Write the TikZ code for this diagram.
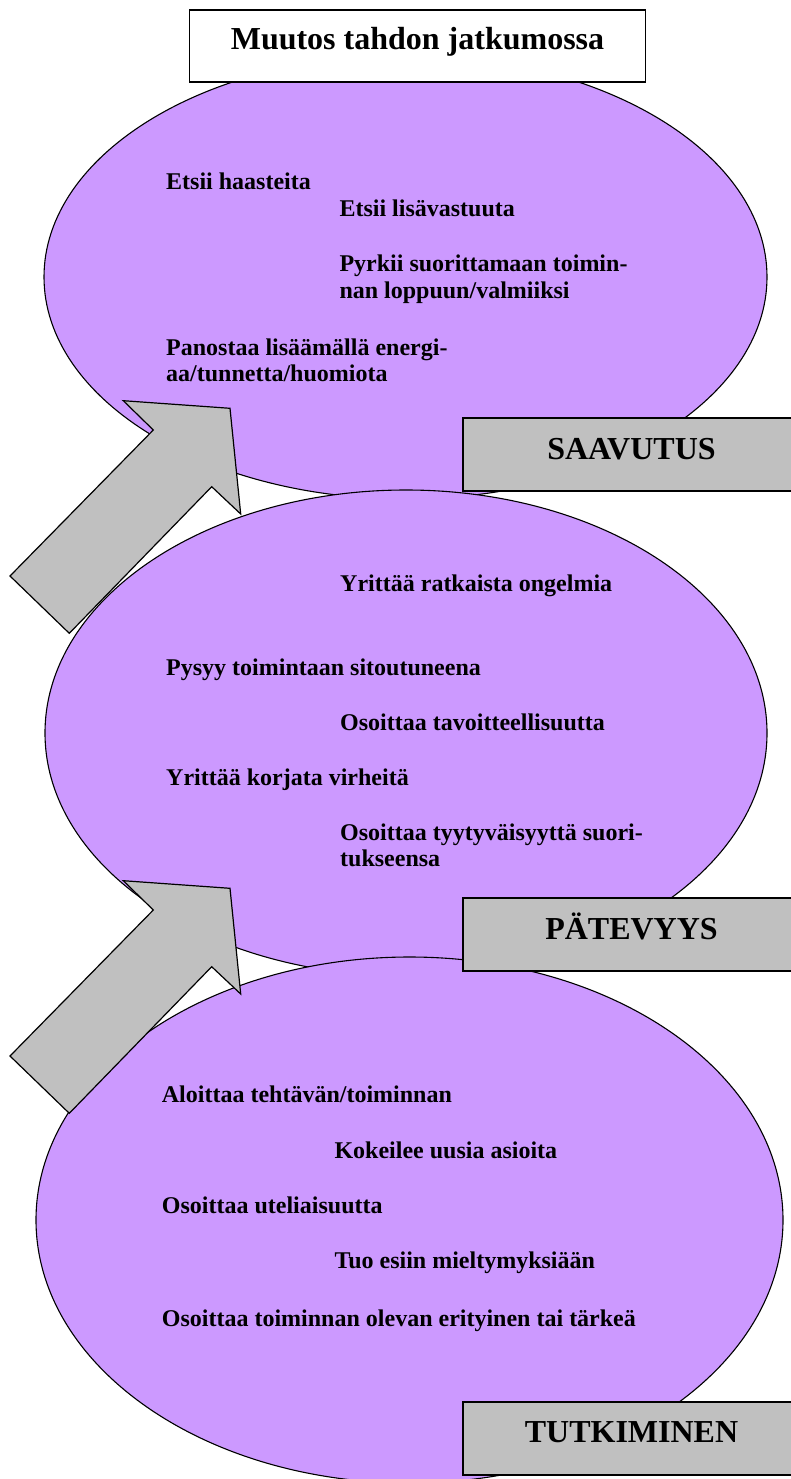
\documentclass[tikz,border=0pt]{standalone}
\usepackage{fontspec}
\setmainfont{Liberation Serif}
\usetikzlibrary{shapes.geometric}
\definecolor{lila}{RGB}{204,153,255}
\definecolor{harmaa}{RGB}{192,192,192}

\begin{document}
\begin{tikzpicture}[x=1pt,y=-1pt]
  \tikzset{pallo/.style = {shape=ellipse,draw,fill=lila,line width=1.1pt,inner sep=0pt}}
  \tikzset{teksti/.style = {anchor=base west,inner sep=0pt,align=left,
      font=\fontsize{24}{26.7}\selectfont\bfseries}}
  \tikzset{laatikko/.style = {shape=rectangle,draw,line width=1.3pt,inner sep=0pt,
      text height=22pt,text depth=13pt,font=\fontsize{32}{36}\selectfont\bfseries}}
  \tikzset{taso/.style = {laatikko,fill=harmaa,minimum width=337pt,minimum height=73pt}}
  \tikzset{nuoli/.style = {draw,fill=harmaa,line width=1.2pt,line join=miter}}

  \useasboundingbox (0,0) rectangle (790,1479);

  % pallot
  \node[pallo,minimum width=723pt,minimum height=444pt] (e1) at (405.5,277) {};
  \node[pallo,minimum width=722pt,minimum height=486pt] (e2) at (406,733) {};
  \node[pallo,minimum width=747pt,minimum height=526pt] (e3) at (409.5,1220) {};

  % nuolet
  \foreach \dy in {0,480}
    \draw[nuoli,yshift=-\dy pt] (10,576) -- (153.3,430) -- (123.3,400.7) -- (230,408.3)
      -- (240.7,514) -- (211.7,486.7) -- (69.3,633.3) -- cycle;

  \node[laatikko,fill=white,minimum width=456pt,minimum height=72pt,text depth=14pt]
    (otsikko) at (417.5,46) {Muutos tahdon jatkumossa};

  % saavutus (monirivisen solmun base = viimeinen rivi)
  \node[teksti] (s1) at (166,189.3) {Etsii haasteita};
  \node[teksti] (s2) at (339.3,216.7) {Etsii lisävastuuta};
  \node[teksti] (s3) at (339.3,298.3) {Pyrkii suorittamaan toimin-\\nan loppuun/valmiiksi};
  \node[teksti] (s4) at (166,381.7) {Panostaa lisäämällä energi-\\aa/tunnetta/huomiota};
  \node[taso] (saavutus) at (631.5,454.5) {SAAVUTUS};

  % patevyys
  \node[teksti] (p1) at (340,591.7) {Yrittää ratkaista ongelmia};
  \node[teksti] (p2) at (166,675) {Pysyy toimintaan sitoutuneena};
  \node[teksti] (p3) at (340,730) {Osoittaa tavoitteellisuutta};
  \node[teksti] (p4) at (166,785) {Yrittää korjata virheitä};
  \node[teksti] (p5) at (340,866.7) {Osoittaa tyytyväisyyttä suori-\\tukseensa};
  \node[taso] (patevyys) at (631.5,934.5) {PÄTEVYYS};

  % tutkiminen
  \node[teksti] (t1) at (161.7,1102.7) {Aloittaa tehtävän/toiminnan};
  \node[teksti] (t2) at (334.3,1158.3) {Kokeilee uusia asioita};
  \node[teksti] (t3) at (161.7,1213.3) {Osoittaa uteliaisuutta};
  \node[teksti] (t4) at (334.3,1268.3) {Tuo esiin mieltymyksiään};
  \node[teksti] (t5) at (161.7,1326) {Osoittaa toiminnan olevan erityinen tai tärkeä};
  \node[taso] (tutkiminen) at (631.5,1438.4) {TUTKIMINEN};
\end{tikzpicture}
\end{document}
